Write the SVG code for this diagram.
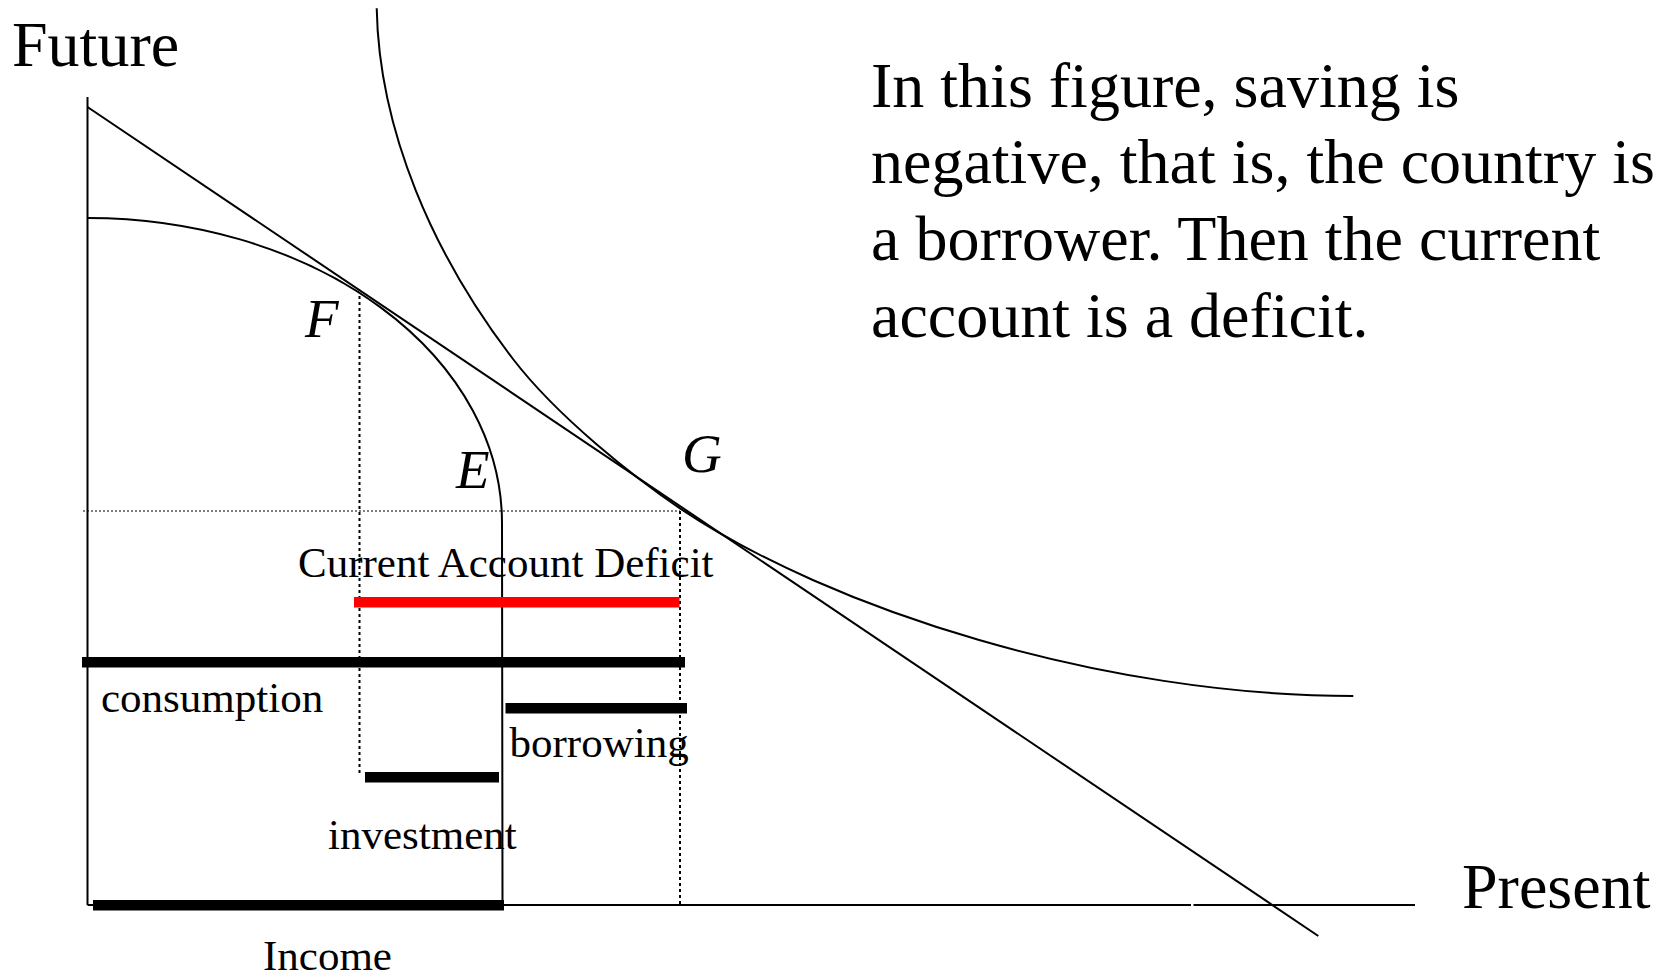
<svg xmlns="http://www.w3.org/2000/svg" width="1675" height="979" viewBox="0 0 1675 979">
<style>
.t{font-family:"Liberation Serif","Times New Roman",serif;fill:#000}
.big{font-size:64px}
.lab{font-size:43px}
.pt{font-size:55px;font-style:italic}
.ln{fill:none;stroke:#000;stroke-width:2}
.dh{fill:none;stroke:#000;stroke-width:1;stroke-dasharray:2 2}
.dv{fill:none;stroke:#000;stroke-width:2;stroke-dasharray:3 3}
.bar{fill:#000}
</style>
<rect width="1675" height="979" fill="#fff"/>
<g id="axes">
<line class="ln" x1="87.5" y1="97" x2="87.5" y2="905"/>
<line class="ln" x1="87.5" y1="905" x2="1191" y2="905"/>
<line class="ln" x1="1193.5" y1="905" x2="1415" y2="905"/>
<text class="t big" x="12" y="66">Future</text>
<text class="t big" x="1462" y="908">Present</text>
</g>
<g id="connectors">
<path id="budget-line" class="ln" d="M87.5 107 L1318.3 936"/>
<path id="ppf" class="ln" d="M87.5 218 A414.5 305 0 0 1 502 523 L502.5 905"/>
<path id="indifference" class="ln" d="M376.7 8.3 C379 130 433 255 513 359 C558 417.5 635 478 680 508.3 C830 609.3 1103.3 696 1353.3 696"/>
<line class="dh" x1="83" y1="511" x2="680" y2="511"/>
<line class="dv" x1="359.5" y1="296" x2="359.5" y2="775"/>
<line class="dv" x1="680" y1="511" x2="680" y2="905"/>
</g>
<g id="point-F"><text class="t pt" x="305" y="337">F</text></g>
<g id="point-E"><text class="t pt" x="456" y="488">E</text></g>
<g id="point-G"><text class="t pt" x="682" y="472">G</text></g>
<g id="current-account">
<rect x="354" y="597" width="325.5" height="10.5" fill="#ff0000"/>
<text class="t lab" x="298" y="577">Current Account Deficit</text>
</g>
<g id="consumption">
<rect class="bar" x="82" y="657" width="603" height="10.5"/>
<text class="t lab" x="101" y="712">consumption</text>
</g>
<g id="borrowing">
<rect class="bar" x="505.5" y="703" width="181.5" height="10.5"/>
<text class="t lab" x="509.5" y="757">borrowing</text>
</g>
<g id="investment">
<rect class="bar" x="365" y="772" width="134" height="10.5"/>
<text class="t lab" x="328" y="849">investment</text>
</g>
<g id="income">
<rect class="bar" x="93" y="900" width="411" height="10.5"/>
<text class="t lab" x="263" y="970">Income</text>
</g>
<g id="note">
<text class="t big" x="871" y="107">In this figure, saving is</text>
<text class="t big" x="871" y="183">negative, that is, the country is</text>
<text class="t big" x="871" y="260">a borrower. Then the current</text>
<text class="t big" x="871" y="337">account is a deficit.</text>
</g>
</svg>
